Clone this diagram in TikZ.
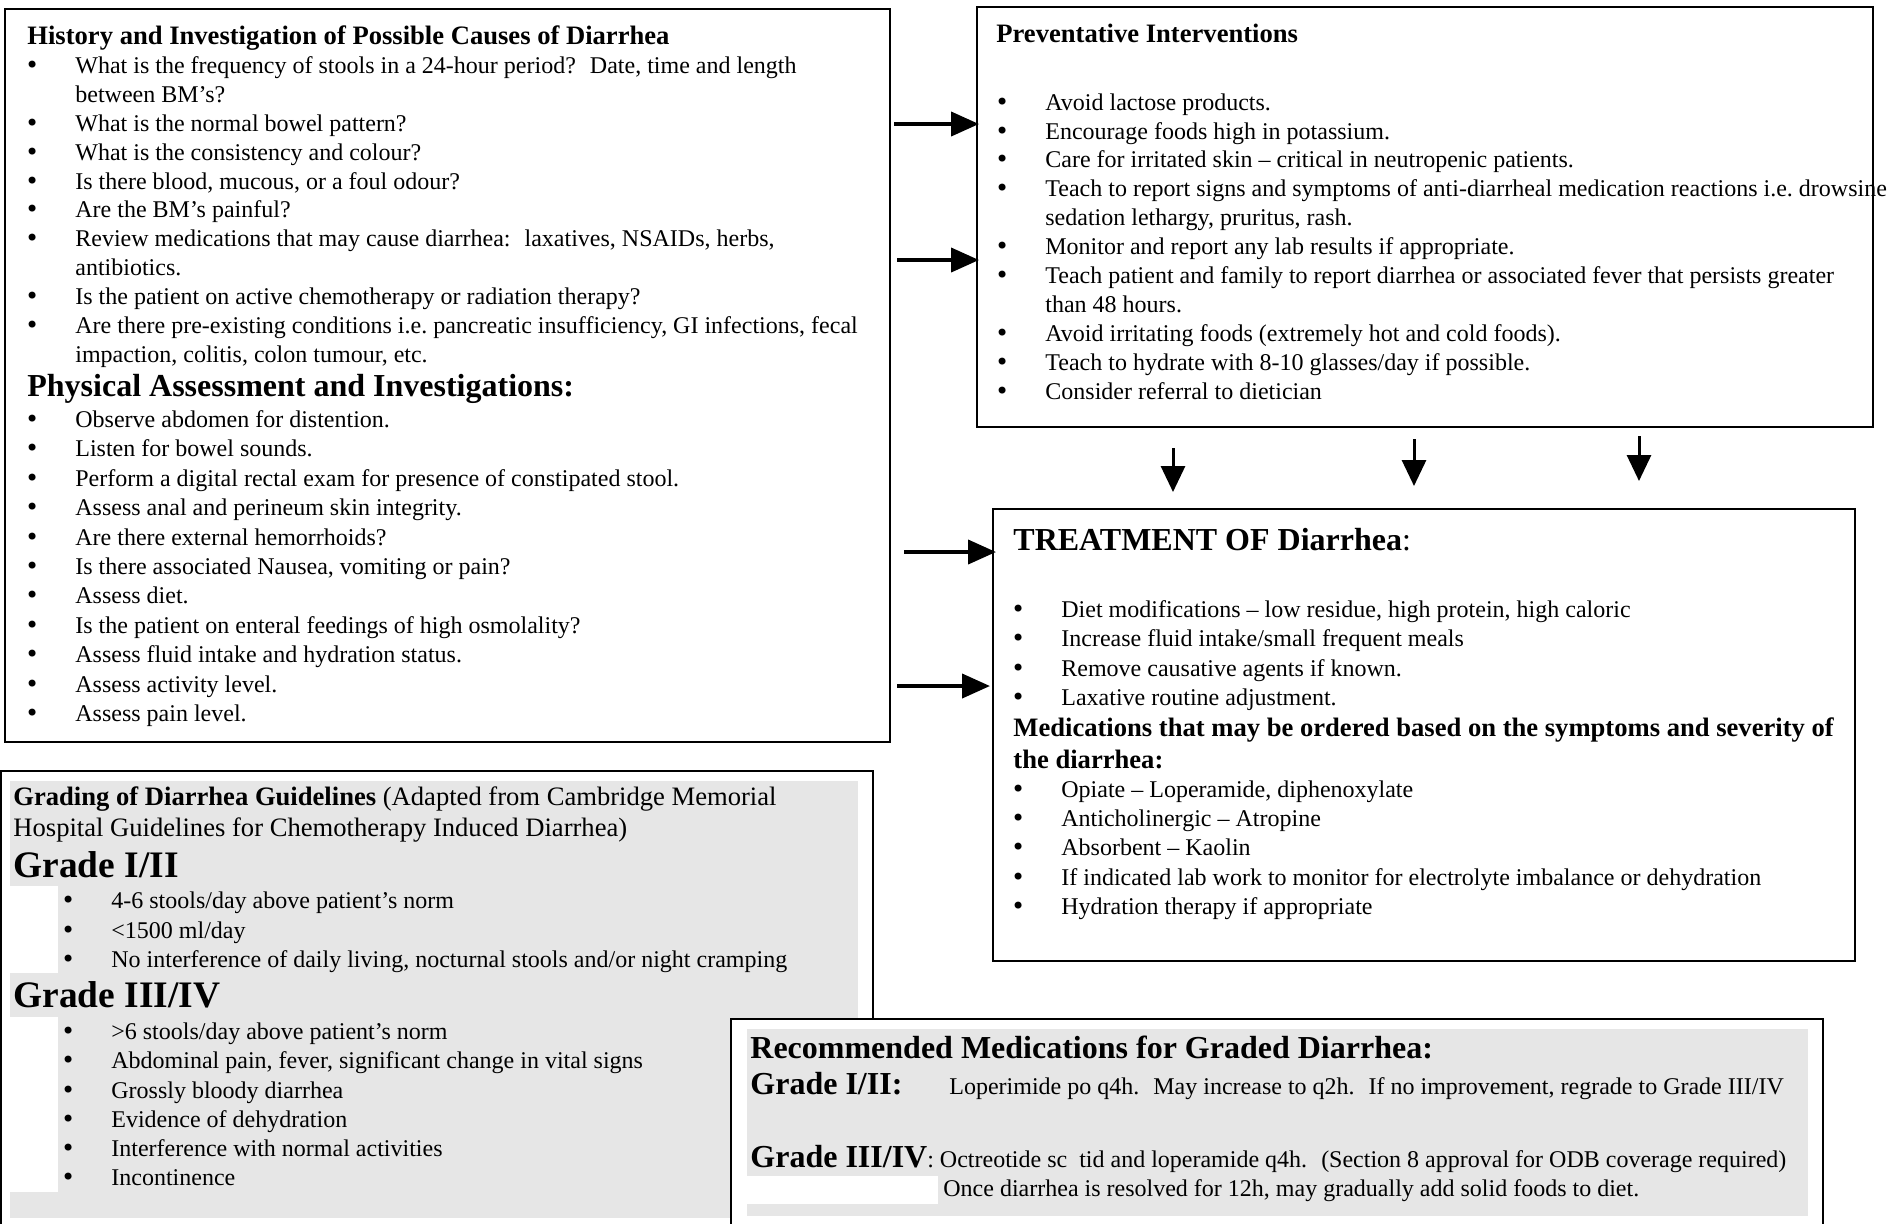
\documentclass[tikz,border=0pt]{standalone}
\usepackage{fontspec}
\setmainfont{Liberation Serif}
\newfontfamily\bulletFont{DejaVu Sans}
\usetikzlibrary{arrows.meta, fit}
\tikzstyle{chart} = [x = .5pt, y = -.5pt]
\definecolor{shadeGray}{RGB}{230,230,230}
\tikzstyle{boxStyle} = [draw=black, line width=1pt, inner sep=0pt]
\tikzstyle{itemText} = [anchor=base west, inner sep=0pt, font=\fontsize{12}{14.4}\selectfont]
\tikzstyle{noteText} = [itemText, font=\fontsize{13.3}{16}\selectfont]
\tikzstyle{headSmall} = [itemText, font=\fontsize{13.3}{16}\selectfont\bfseries]
\tikzstyle{headLarge} = [itemText, font=\fontsize{16}{19}\selectfont\bfseries]
\tikzstyle{headHuge} = [itemText, font=\fontsize{18.7}{22}\selectfont\bfseries]
\tikzstyle{sideArrow} = [line width=2pt, -{Triangle[length=14pt, width=12pt]}]
\tikzstyle{downArrow} = [line width=1.5pt, -{Triangle[length=13pt, width=12pt]}]
\newcommand{\bigBullet}{{\bulletFont •}}
\newcommand{\bulletLine}[4]{\node [itemText] (#1) at (#2,#3) {\llap{\bigBullet\hspace{18.1pt}}#4};}
\newcommand{\plainLine}[4]{\node [itemText] (#1) at (#2,#3) {#4};}

\begin{document}
\begin{tikzpicture}[chart]
  \useasboundingbox (0,0) rectangle (1891,1223);

  % history and physical assessment
  \node [boxStyle, fit={(5,9) (890,742)}] (hist) {};
  \node [headSmall] (histHead) at (27,44) {History and Investigation of Possible Causes of Diarrhea};
  \bulletLine{h1}{75}{73}{What is the frequency of stools in a 24-hour period?~ Date, time and length}
  \plainLine{h1b}{75}{102}{between BM’s?}
  \bulletLine{h2}{75}{131}{What is the normal bowel pattern?}
  \bulletLine{h3}{75}{160}{What is the consistency and colour?}
  \bulletLine{h4}{75}{189}{Is there blood, mucous, or a foul odour?}
  \bulletLine{h5}{75}{217}{Are the BM’s painful?}
  \bulletLine{h6}{75}{246}{Review medications that may cause diarrhea:~ laxatives, NSAIDs, herbs,}
  \plainLine{h6b}{75}{275}{antibiotics.}
  \bulletLine{h7}{75}{304}{Is the patient on active chemotherapy or radiation therapy?}
  \bulletLine{h8}{75}{333}{Are there pre-existing conditions i.e.\ pancreatic insufficiency, GI infections, fecal}
  \plainLine{h8b}{75}{362}{impaction, colitis, colon tumour, etc.}
  \node [headLarge] (physHead) at (27,396) {Physical Assessment and Investigations:};
  \bulletLine{p1}{75}{427}{Observe abdomen for distention.}
  \bulletLine{p2}{75}{456}{Listen for bowel sounds.}
  \bulletLine{p3}{75}{486}{Perform a digital rectal exam for presence of constipated stool.}
  \bulletLine{p4}{75}{515}{Assess anal and perineum skin integrity.}
  \bulletLine{p5}{75}{545}{Are there external hemorrhoids?}
  \bulletLine{p6}{75}{574}{Is there associated Nausea, vomiting or pain?}
  \bulletLine{p7}{75}{603}{Assess diet.}
  \bulletLine{p8}{75}{633}{Is the patient on enteral feedings of high osmolality?}
  \bulletLine{p9}{75}{662}{Assess fluid intake and hydration status.}
  \bulletLine{p10}{75}{692}{Assess activity level.}
  \bulletLine{p11}{75}{721}{Assess pain level.}

  % preventative interventions
  \node [boxStyle, fit={(977,7) (1873,427)}] (prev) {};
  \node [headSmall] (prevHead) at (996,42) {Preventative Interventions};
  \bulletLine{v1}{1045}{110}{Avoid lactose products.}
  \bulletLine{v2}{1045}{139}{Encourage foods high in potassium.}
  \bulletLine{v3}{1045}{167}{Care for irritated skin -- critical in neutropenic patients.}
  \bulletLine{v4}{1045}{196}{Teach to report signs and symptoms of anti-diarrheal medication reactions i.e.\ drowsine}
  \plainLine{v4b}{1045}{225}{sedation lethargy, pruritus, rash.}
  \bulletLine{v5}{1045}{254}{Monitor and report any lab results if appropriate.}
  \bulletLine{v6}{1045}{283}{Teach patient and family to report diarrhea or associated fever that persists greater}
  \plainLine{v6b}{1045}{312}{than 48 hours.}
  \bulletLine{v7}{1045}{341}{Avoid irritating foods (extremely hot and cold foods).}
  \bulletLine{v8}{1045}{370}{Teach to hydrate with 8-10 glasses/day if possible.}
  \bulletLine{v9}{1045}{399}{Consider referral to dietician}

  % treatment
  \node [boxStyle, fit={(993,509) (1855,961)}] (treat) {};
  \node [headLarge] (treatHead) at (1013,550) {TREATMENT OF Diarrhea{\mdseries :}};
  \bulletLine{t1}{1061}{617}{Diet modifications -- low residue, high protein, high caloric}
  \bulletLine{t2}{1061}{646}{Increase fluid intake/small frequent meals}
  \bulletLine{t3}{1061}{676}{Remove causative agents if known.}
  \bulletLine{t4}{1061}{705}{Laxative routine adjustment.}
  \node [headSmall] (medHead) at (1013,736) {Medications that may be ordered based on the symptoms and severity of};
  \node [headSmall] (medHeadb) at (1013,768) {the diarrhea:};
  \bulletLine{m1}{1061}{797}{Opiate -- Loperamide, diphenoxylate}
  \bulletLine{m2}{1061}{826}{Anticholinergic -- Atropine}
  \bulletLine{m3}{1061}{855}{Absorbent -- Kaolin}
  \bulletLine{m4}{1061}{885}{If indicated lab work to monitor for electrolyte imbalance or dehydration}
  \bulletLine{m5}{1061}{914}{Hydration therapy if appropriate}

  % arrows
  \draw [sideArrow, shorten <=1.5pt, shorten >=-1.5pt] (hist.east |- 0,124) -- (prev.west |- 0,124);
  \draw [sideArrow, shorten <=3pt, shorten >=-1.5pt] (hist.east |- 0,260) -- (prev.west |- 0,260);
  \draw [sideArrow, shorten <=6.5pt, shorten >=-2pt] (hist.east |- 0,552) -- (treat.west |- 0,552);
  \draw [sideArrow, shorten <=3pt, shorten >=1pt] (hist.east |- 0,686) -- (treat.west |- 0,686);
  \draw [downArrow, shorten <=10pt, shorten >=8pt] (prev.south -| 1173,0) -- (treat.north -| 1173,0);
  \draw [downArrow, shorten <=5.5pt, shorten >=11pt] (prev.south -| 1414,0) -- (treat.north -| 1414,0);
  \draw [downArrow, shorten <=4pt, shorten >=13.5pt] (prev.south -| 1639,0) -- (treat.north -| 1639,0);

  % grading guidelines
  \node [boxStyle, fit={(1,771) (873,1240)}] (grading) {};
  \fill [shadeGray] (10,781) rectangle (858,1218);
  \fill [white] (10,886) rectangle (58,973);
  \fill [white] (10,1017) rectangle (58,1192);
  \node [noteText] (gradHead) at (13,805) {\textbf{Grading of Diarrhea Guidelines} (Adapted from Cambridge Memorial};
  \node [noteText] (gradHeadb) at (13,836) {Hospital Guidelines for Chemotherapy Induced Diarrhea)};
  \node [headHuge] (gradeOne) at (13,877) {Grade I/II};
  \bulletLine{g1}{111}{908}{4-6 stools/day above patient’s norm}
  \bulletLine{g2}{111}{938}{<1500 ml/day}
  \bulletLine{g3}{111}{967}{No interference of daily living, nocturnal stools and/or night cramping}
  \node [headHuge] (gradeThree) at (13,1007) {Grade III/IV};
  \bulletLine{g4}{111}{1039}{>6 stools/day above patient’s norm}
  \bulletLine{g5}{111}{1068}{Abdominal pain, fever, significant change in vital signs}
  \bulletLine{g6}{111}{1098}{Grossly bloody diarrhea}
  \bulletLine{g7}{111}{1127}{Evidence of dehydration}
  \bulletLine{g8}{111}{1156}{Interference with normal activities}
  \bulletLine{g9}{111}{1185}{Incontinence}

  % recommended medications
  \node [boxStyle, fill=white, fit={(731,1019) (1823,1240)}] (meds) {};
  \fill [shadeGray] (747,1029) rectangle (1808,1216);
  \fill [white] (747,1176) rectangle (938,1204);
  \node [headLarge] (medsHead) at (750,1058) {Recommended Medications for Graded Diarrhea:};
  \node [headLarge] (medsOne) at (750,1094) {Grade I/II:};
  \plainLine{medsOneText}{949}{1094}{Loperimide po q4h.~ May increase to q2h.~ If no improvement, regrade to Grade III/IV}
  \node [headLarge] (medsThree) at (750,1167) {Grade III/IV{\mdseries\fontsize{12}{14.4}\selectfont: Octreotide sc~ tid and loperamide q4h.~ (Section 8 approval for ODB coverage required)}};
  \plainLine{medsThreeText}{943}{1196}{Once diarrhea is resolved for 12h, may gradually add solid foods to diet.}
\end{tikzpicture}
\end{document}
